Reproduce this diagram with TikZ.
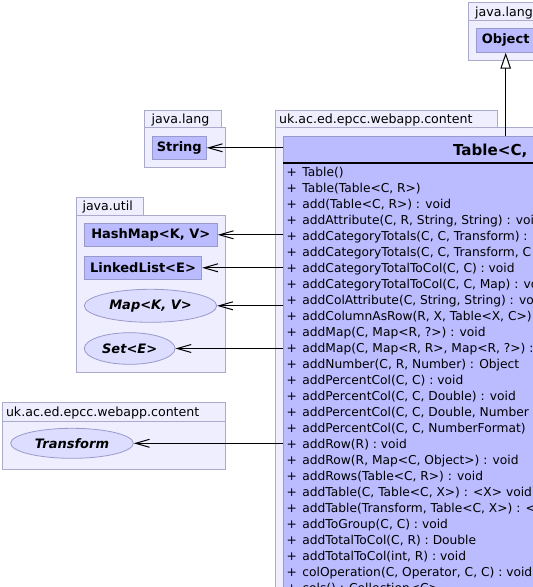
\documentclass[tikz,border=0pt]{standalone}
\usepackage{fontspec}
\setmainfont{DejaVu Sans}
\usetikzlibrary{arrows.meta,shapes.geometric}
\definecolor{pkgfill}{HTML}{EEEEFF}
\definecolor{pkgdraw}{HTML}{AAAACC}
\definecolor{clsfill}{HTML}{BBBBFF}
\definecolor{clsdraw}{HTML}{9999CC}
\definecolor{iffill}{HTML}{DDDDFF}
\tikzset{
  pkgbox/.style={draw=pkgdraw, fill=pkgfill, line width=0.8pt},
  pkglabel/.style={inner sep=0pt, anchor=base west, font=\fontsize{12.6}{14}\selectfont},
  clsnode/.style={draw=clsdraw, fill=clsfill, line width=0.8pt, inner sep=0pt, font=\fontsize{13}{15}\selectfont\bfseries},
  ifnode/.style={ellipse, draw=clsdraw, fill=iffill, line width=0.8pt, inner sep=0pt, font=\fontsize{13}{15}\selectfont\bfseries\itshape},
  member/.style={inner sep=0pt, anchor=base west, font=\fontsize{12.25}{14}\selectfont},
  titletext/.style={inner sep=0pt, anchor=base, font=\fontsize{15.1}{17}\selectfont\bfseries},
  dep/.style={draw=black, line width=1pt, -{Straight Barb[length=14pt, width=8pt, line width=1pt]}},
  gen/.style={draw=black, line width=1pt, -{Triangle[open, length=16pt, width=10.6pt, line width=1pt, fill=white]}}
}
\begin{document}
\begin{tikzpicture}[x=1pt, y=-1pt]
\useasboundingbox (0,0) rectangle (533,587);
\fill[white] (0,0) rectangle (533,587);
\clip (0,0) rectangle (533,587);

% packages
\draw[pkgbox] (468.3,2.7) rectangle (545,20.7);
\draw[pkgbox] (468.3,20.7) rectangle (545,60.3);
\node[pkglabel] (lblobj) at (475,16.3) {java.lang};

\draw[pkgbox] (144.5,110.3) rectangle (221.4,127);
\draw[pkgbox] (144.5,127) rectangle (225.5,167);
\node[pkglabel] (lblstr) at (151.5,123.3) {java.lang};

\draw[pkgbox] (76.3,197.3) rectangle (143.3,215);
\draw[pkgbox] (76.3,215) rectangle (225.7,372.3);
\node[pkglabel] (lblutil) at (82.3,210.7) {java.util};

\draw[pkgbox] (2.7,402.7) rectangle (225.7,421);
\draw[pkgbox] (2.7,421) rectangle (225.7,469);
\node[pkglabel] (lbltr) at (5.8,416) {uk.ac.ed.epcc.webapp.content};

\draw[pkgbox] (275.5,110.3) rectangle (497.6,127);
\draw[pkgbox] (275.5,127) rectangle (760,620);
\node[pkglabel] (lblcnt) at (279,123.3) {uk.ac.ed.epcc.webapp.content};

% classes
\node[clsnode, minimum width=59.4pt, minimum height=24pt] (obj) at (505.7,40.3) {Object};
\node[clsnode, minimum width=54pt, minimum height=23pt] (str) at (179.3,147.8) {String};
\node[clsnode, minimum width=133pt, minimum height=23pt] (hm) at (150.8,234.8) {HashMap<K, V>};
\node[clsnode, minimum width=117.4pt, minimum height=23pt] (ll) at (143,267.8) {LinkedList<E>};
\node[ifnode, minimum width=132.4pt, minimum height=33pt] (map) at (150.5,305.8) {Map<K, V>};
\node[ifnode, minimum width=90.7pt, minimum height=31.6pt] (set) at (129.65,348.5) {Set<E>};
\node[ifnode, minimum width=122.6pt, minimum height=30pt] (tr) at (72,443.3) {Transform};

% main class
\node[clsnode, anchor=north west, minimum width=441pt, minimum height=480pt] (tbl) at (283.3,135.7) {};
\draw[line width=2pt] (283.3,162.7) -- (724.3,162.7);
\node[titletext] (ttl) at (505,155) {Table<C, R>};

\foreach \t [count=\i from 0] in {
 {Table()},
 {Table(Table<C, R>)},
 {add(Table<C, R>) : void},
 {addAttribute(C, R, String, String) : void},
 {addCategoryTotals(C, C, Transform) :},
 {addCategoryTotals(C, C, Transform, C},
 {addCategoryTotalToCol(C, C) : void},
 {addCategoryTotalToCol(C, C, Map) : void},
 {addColAttribute(C, String, String) : void},
 {addColumnAsRow(R, X, Table<X, C>)},
 {addMap(C, Map<R, ?>) : void},
 {addMap(C, Map<R, R>, Map<R, ?>) :},
 {addNumber(C, R, Number) : Object},
 {addPercentCol(C, C) : void},
 {addPercentCol(C, C, Double) : void},
 {addPercentCol(C, C, Double, Number},
 {addPercentCol(C, C, NumberFormat)},
 {addRow(R) : void},
 {addRow(R, Map<C, Object>) : void},
 {addRows(Table<C, R>) : void},
 {addTable(C, Table<C, X>) : <X> void},
 {addTable(Transform, Table<C, X>) : <X> void},
 {addToGroup(C, C) : void},
 {addTotalToCol(C, R) : Double},
 {addTotalToCol(int, R) : void},
 {colOperation(C, Operator, C, C) : void},
 {cols() : Collection<C>}
}{
  \node[member] (p\i) at (286.3,{176.5+16*\i}) {+};
  \node[member] (m\i) at (302.2,{176.5+16*\i}) {\t};
}

% connectors
\draw[gen] (tbl.north -| obj) -- (obj.south);
\draw[dep] (str -| tbl.west) -- (str.east);
\draw[dep] (hm -| tbl.west) -- (hm.east);
\draw[dep] (ll -| tbl.west) -- (ll.east);
\draw[dep] (map -| tbl.west) -- (map.east);
\draw[dep] (set -| tbl.west) -- (set.east);
\draw[dep] (tr -| tbl.west) -- (tr.east);
\end{tikzpicture}
\end{document}
